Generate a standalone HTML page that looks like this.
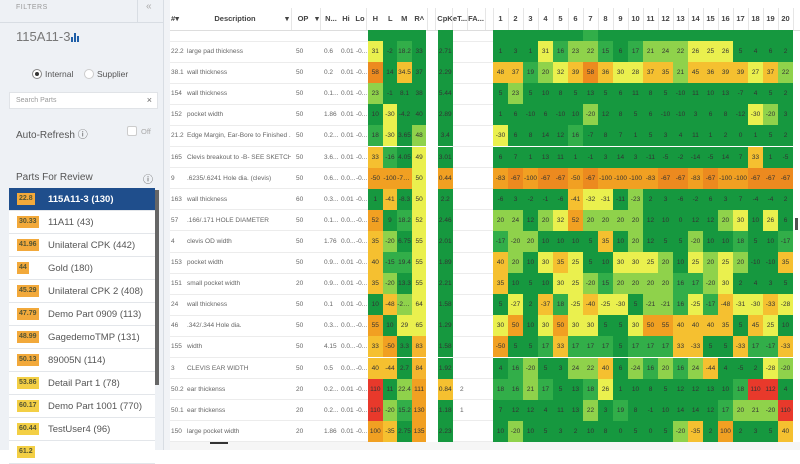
<!DOCTYPE html>
<html><head><meta charset="utf-8"><style>
*{box-sizing:border-box;margin:0;padding:0}
body{width:800px;height:450px;overflow:hidden;background:#fff;font-family:"Liberation Sans",sans-serif;position:relative}
.a{position:absolute}
#side{left:0;top:0;width:164px;height:450px;background:#eef1f5;border-right:1px solid #d8dde3}
.li{position:absolute;left:9px;width:146px;height:23px;background:#fff;border-bottom:1px solid #e3e6ea;font-size:9.5px;color:#555;line-height:23px}
.li .b{position:absolute;left:8px;top:5px;height:12px;padding:0 2px;font-size:7px;line-height:12px;color:#553;font-weight:bold}
.li .t{position:absolute;left:39px}
.hd{position:absolute;top:8px;height:22px;line-height:22px;font-size:7.5px;color:#444;font-weight:bold;text-align:center;white-space:nowrap}
.c{position:absolute;font-size:6.5px;color:#333;text-align:center;overflow:hidden;white-space:nowrap;text-overflow:ellipsis}
.tx{position:absolute;font-size:6.5px;color:#666;white-space:nowrap;overflow:hidden}
</style></head><body>
<div id="side" class="a">
 <div class="a" style="left:16px;top:4px;font-size:7px;color:#999;letter-spacing:.5px">FILTERS</div>
 <div class="a" style="left:137px;top:0;width:1px;height:22px;background:#d8dde3"></div>
 <div class="a" style="left:146px;top:1px;font-size:10px;color:#aaa">«</div>
 <div class="a" style="left:0;top:22px;width:164px;height:1px;background:#d8dde3"></div>
 <div class="a" style="left:16px;top:29px;font-size:13px;color:#777">115A11-3</div>
 <div class="a" style="left:71px;top:33px;width:10px;height:9px">
  <div class="a" style="left:0;top:4px;width:2px;height:5px;background:#1f5fa8"></div>
  <div class="a" style="left:3px;top:0;width:2px;height:9px;background:#1f5fa8"></div>
  <div class="a" style="left:6px;top:3px;width:2px;height:6px;background:#1f5fa8"></div>
 </div>
 <div class="a" style="left:32px;top:69px;width:10px;height:10px;border:1px solid #888;border-radius:50%;background:#fff"><div class="a" style="left:2px;top:2px;width:4px;height:4px;border-radius:50%;background:#333"></div></div>
 <div class="a" style="left:45px;top:69px;font-size:8.5px;color:#555">Internal</div>
 <div class="a" style="left:84px;top:69px;width:10px;height:10px;border:1px solid #ccc;border-radius:50%;background:#fff"></div>
 <div class="a" style="left:97px;top:69px;font-size:8.5px;color:#555">Supplier</div>
 <div class="a" style="left:9px;top:92px;width:149px;height:17px;background:#fff;border:1px solid #e0e3e7"><span class="a" style="left:6px;top:4px;font-size:7px;color:#999">Search Parts</span><span class="a" style="right:5px;top:2px;font-size:9px;color:#666">×</span></div>
 <div class="a" style="left:16px;top:126px;font-size:10px;color:#555">Auto-Refresh ⓘ</div>
 <div class="a" style="left:127px;top:126px;width:10px;height:10px;border:1px solid #ccc;background:#fff;border-radius:2px"></div>
 <div class="a" style="left:141px;top:127px;font-size:7.5px;color:#aaa">Off</div>
 <div class="a" style="left:16px;top:172px;font-size:10px;color:#555">Parts For Review</div>
 <div class="a" style="left:143px;top:171px;font-size:10px;color:#555">ⓘ</div>
 <div id="list"></div>
 <div class="a" style="left:155px;top:190px;width:4px;height:195px;background:#666"></div>
</div>
<div class="a" style="left:164px;top:0;width:6px;height:450px;background:#f1f3f6"></div>
<div class="a" style="left:170px;top:30px;width:630px;height:1px;background:#ddd"></div>
<div class="a" style="left:170px;top:442px;width:630px;height:8px;background:#f6f6f6"></div>
<div class="a" style="left:210px;top:442px;width:18px;height:2px;background:#333"></div>
<div class="a" style="left:795px;top:218px;width:3px;height:12px;background:#555"></div>
<div id="tbl"></div>
<script>
var parts=["115A11-3 (130)","11A11 (43)","Unilateral CPK (442)","Gold (180)","Unilateral CPK 2 (408)","Demo Part 0909 (113)","GagedemoTMP (131)","89005N (114)","Detail Part 1 (78)","Demo Part 1001 (770)","TestUser4 (96)",""];
var scores=["22.8","30.33","41.96","44","45.29","47.79","48.99","50.13","53.86","60.17","60.44","61.2"];
var L=document.getElementById('list');
parts.forEach(function(p,i){
 var d=document.createElement('div');d.className='li';d.style.top=(188+23*i)+'px';
 
 
 if(i==0){d.style.background='#1f4e8c';d.style.color='#fff';d.style.fontWeight='bold';}
 var s=parseFloat(scores[i]);var bc=s<53?'#f2a93b':'#f3cf45';
 d.innerHTML='<span class="b" style="background:'+bc+'">'+scores[i]+'</span><span class="t">'+p+'</span>';
 L.appendChild(d);
});

var ids=["21.6","22.2","38.1","154","152","21.2","165","9","163","57","4","153","151","24","46","155","3","50.2","50.1","150"];
var descs=["Edge Margin, Ear-Bore to Finished ...","large pad thickness","wall thickness","wall thickness","pocket width","Edge Margin, Ear-Bore to Finished ...","Clevis breakout to -B- SEE SKETCH",".6235/.6241 Hole dia. (clevis)","wall thickness",".166/.171 HOLE DIAMETER","clevis OD width","pocket width","small pocket width","wall thickness",".342/.344 Hole dia.","width","CLEVIS EAR WIDTH","ear thickenss","ear thickenss","large pocket width"];
var ops=[50,50,50,50,50,50,50,50,60,50,50,50,20,50,50,50,50,20,20,20];
var nom=["0.2...","0.6","0.2","0.1...","1.86","0.2...","3.6...","0.6...","0.3...","0.1...","1.76","0.9...","0.9...","0.1","0.3...","4.15","0.5","0.2...","0.2...","1.86"];
var his=["0.01","0.01","0.01","0.01","0.01","0.01","0.01","0.0...","0.01","0.0...","0.0...","0.01","0.01","0.01","0.0...","0.0...","0.0...","0.01","0.01","0.01"];
var hVals=[5,31,58,23,10,18,33,-50,1,52,35,40,35,10,55,33,40,110,110,100];
var lVals=[3,-2,14,-1,-30,-30,-16,-100,-41,9,-20,-15,-20,-48,10,-50,-44,11,-20,-35];
var mVals=[4.2,18.2,34.5,8.1,-4.2,3.65,4.05,-78.5,-8.3,18.2,6.75,19.4,13.3,-21.5,29,3.3,2.7,22.4,15.2,2.75];
var rVals=[30,33,37,38,40,48,49,50,50,52,55,55,55,64,65,83,84,111,130,135];
var cpkVals=[2.5,2.71,2.29,5.44,2.89,3.4,3.01,0.44,2.2,2.46,2.01,1.89,2.21,1.58,1.29,1.58,1.92,0.84,1.18,2.23];
var eVals=["","","","","","","","","","","","","","","","","","2","1",""];
var heat=[
[3,2,4,1,5,6,15,4,3,2,1,5,3,2,4,1,2,3,1,2],
[1,3,1,31,16,23,22,15,6,17,21,24,22,26,25,26,5,4,6,2],
[48,37,19,20,32,39,58,36,30,28,37,35,21,45,36,39,39,27,37,22],
[5,23,5,10,8,5,13,5,6,11,8,5,-10,11,10,13,-7,4,5,2],
[1,6,-10,6,-10,10,-20,12,8,5,6,-10,-10,3,6,8,-12,-30,-20,3],
[-30,6,8,14,12,16,-7,8,7,1,5,3,4,11,1,2,0,1,5,2],
[6,7,1,13,11,1,-1,3,14,3,-11,-5,-2,-14,-5,14,7,33,1,-5],
[-83,-67,-100,-67,-67,-50,-67,-100,-100,-100,-83,-67,-67,-83,-67,-100,-100,-67,-67,-67],
[-6,3,-2,-1,-6,-41,-32,-31,-11,-23,2,3,-6,-2,6,3,7,-4,-4,2],
[20,24,12,20,32,52,20,20,20,20,12,10,0,12,12,20,30,10,26,6],
[-17,-20,20,10,10,10,5,35,10,20,12,5,5,-20,10,10,18,5,10,-17],
[40,20,10,30,35,25,5,10,30,30,25,20,10,25,20,25,20,-10,-10,35],
[35,10,5,10,30,25,-20,15,20,20,20,20,16,17,-20,30,2,4,3,5],
[5,-27,2,-37,18,-25,-40,-25,-30,5,-21,-21,16,-25,-17,-48,-31,-30,-33,-28],
[30,50,10,30,50,30,30,5,5,30,50,55,40,40,40,35,5,45,25,10],
[-50,5,5,17,33,17,17,17,5,17,17,17,33,-33,5,5,-33,17,-17,-33],
[4,16,-20,5,3,24,22,40,6,-24,16,20,16,24,-44,4,-5,2,-28,-20],
[18,16,21,17,5,13,18,26,1,10,8,5,12,12,13,10,18,110,112,4],
[7,12,12,4,11,13,22,3,19,8,-1,10,14,14,12,17,20,21,-20,110],
[10,-20,10,5,3,2,10,8,0,5,0,5,-20,-35,2,100,2,3,5,40]];
var colLabels=["1","2","3","4","5","6","7","8","9","10","11","12","13","14","15","16","17","18","19","20"];

function colA(v){var a=Math.abs(v);
 if(a>=105)return '#e8392b';if(a>=56&&a<70)return '#ec8a1f';if(a>=50)return '#f1a022';if(a>=33)return '#f5c030';
 if(a>=25)return '#eaf04e';if(a>=20)return '#8fd24b';if(a>=15)return '#32ae49';return '#16983f';}
function colR(v){if(v>=100)return '#f1a022';if(v>=70)return '#f5b52e';if(v>=49)return '#eaf04e';if(v>=45)return '#8fd24b';return '#16983f';}
function colC(v){if(v<0.6)return '#f1a022';if(v<1)return '#f5c030';return '#16983f';}
function rowY(i){return i==0?30:41+(i-1)*21.1;}
function rowH(i){return i==0?11:21.1;}
var T=document.getElementById('tbl');
function add(cls,x,y,w,h,txt,bg,name,inter){var d=document.createElement('div');d.className=cls;
 d.style.left=x+'px';d.style.top=y+'px';d.style.width=w+'px';d.style.height=h+'px';d.style.lineHeight=h+'px';
 if(bg)d.style.background=bg;d.textContent=txt;
 
 
 T.appendChild(d);return d;}
var hdrs=[["#▾",168,14],["Description",200,70],["▾",283,8],["OP",296,14],["▾",313,8],["N...",323,16],["Hi",339,14],["Lo",353,14],["H",368,14.6],["L",383,14.6],["M",397,14.6],["R˄",412,14.6],["CpK",436,18],["eT...",452,16],["FA...",467,18]];
hdrs.forEach(function(h){add('hd',h[1],8,h[2],22,h[0],null,'column-header',true);});
colLabels.forEach(function(c,j){add('hd',493+j*15,8,15,22,c,null,'column-header-'+c,true);});
for(var j=0;j<=20;j++){var v=document.createElement('div');v.className='a';v.style.cssText='left:'+(493+j*15)+'px;top:8px;width:1px;height:22px;background:#e6e6e6';T.appendChild(v);}
[291,320,366,427,435,452,467,485].forEach(function(x){var v=document.createElement('div');v.className='a';v.style.cssText='left:'+x+'px;top:8px;width:1px;height:22px;background:#e6e6e6';T.appendChild(v);});
ids.forEach(function(id,i){
 var y=rowY(i),h=rowH(i);
 var ln=document.createElement('div');ln.className='a';ln.style.cssText='left:170px;top:'+(y+h-0.5)+'px;width:198px;height:1px;background:#ececec';T.appendChild(ln);
 var ln2=ln.cloneNode();ln2.style.left='452px';ln2.style.width='41px';T.appendChild(ln2);
 if(i==0)return;
 add('tx',171,y,16,h,id,null,'row-id',false);
 add('tx',187,y,104,h,descs[i],null,'row-description',false);
 add('tx',296,y,20,h,String(ops[i]),null,'row-op',false);
 add('tx',324,y,16,h,nom[i],null,'row-nominal',false);
 add('tx',341,y,14,h,his[i],null,'row-hi',false);
 add('tx',356,y,11,h,'-0...',null,'row-lo',false);
 add('tx',460,y,10,h,eVals[i],null,'row-et',false);
});
ids.forEach(function(id,i){
 var y=rowY(i),h=rowH(i);
 add('c',368,y,14.6,h,i?String(hVals[i]):'',colA(hVals[i]),'cell-h',false);
 add('c',382.6,y,14.6,h,i?String(lVals[i]):'',colA(lVals[i]),'cell-l',false);
 add('c',397.2,y,14.6,h,i?String(mVals[i]):'',colA(mVals[i]),'cell-m',false);
 add('c',411.8,y,14.6,h,i?String(rVals[i]):'',colR(rVals[i]),'cell-r',false);
 add('c',438,y,14.5,h,i?String(cpkVals[i]):'',colC(cpkVals[i]),'cell-cpk',false);
 heat[i].forEach(function(v,j){
  add('c',493+j*15,y,15,h,i?String(v):'',colA(v),'heat-cell',false);
 });
});
</script>
</body></html>
